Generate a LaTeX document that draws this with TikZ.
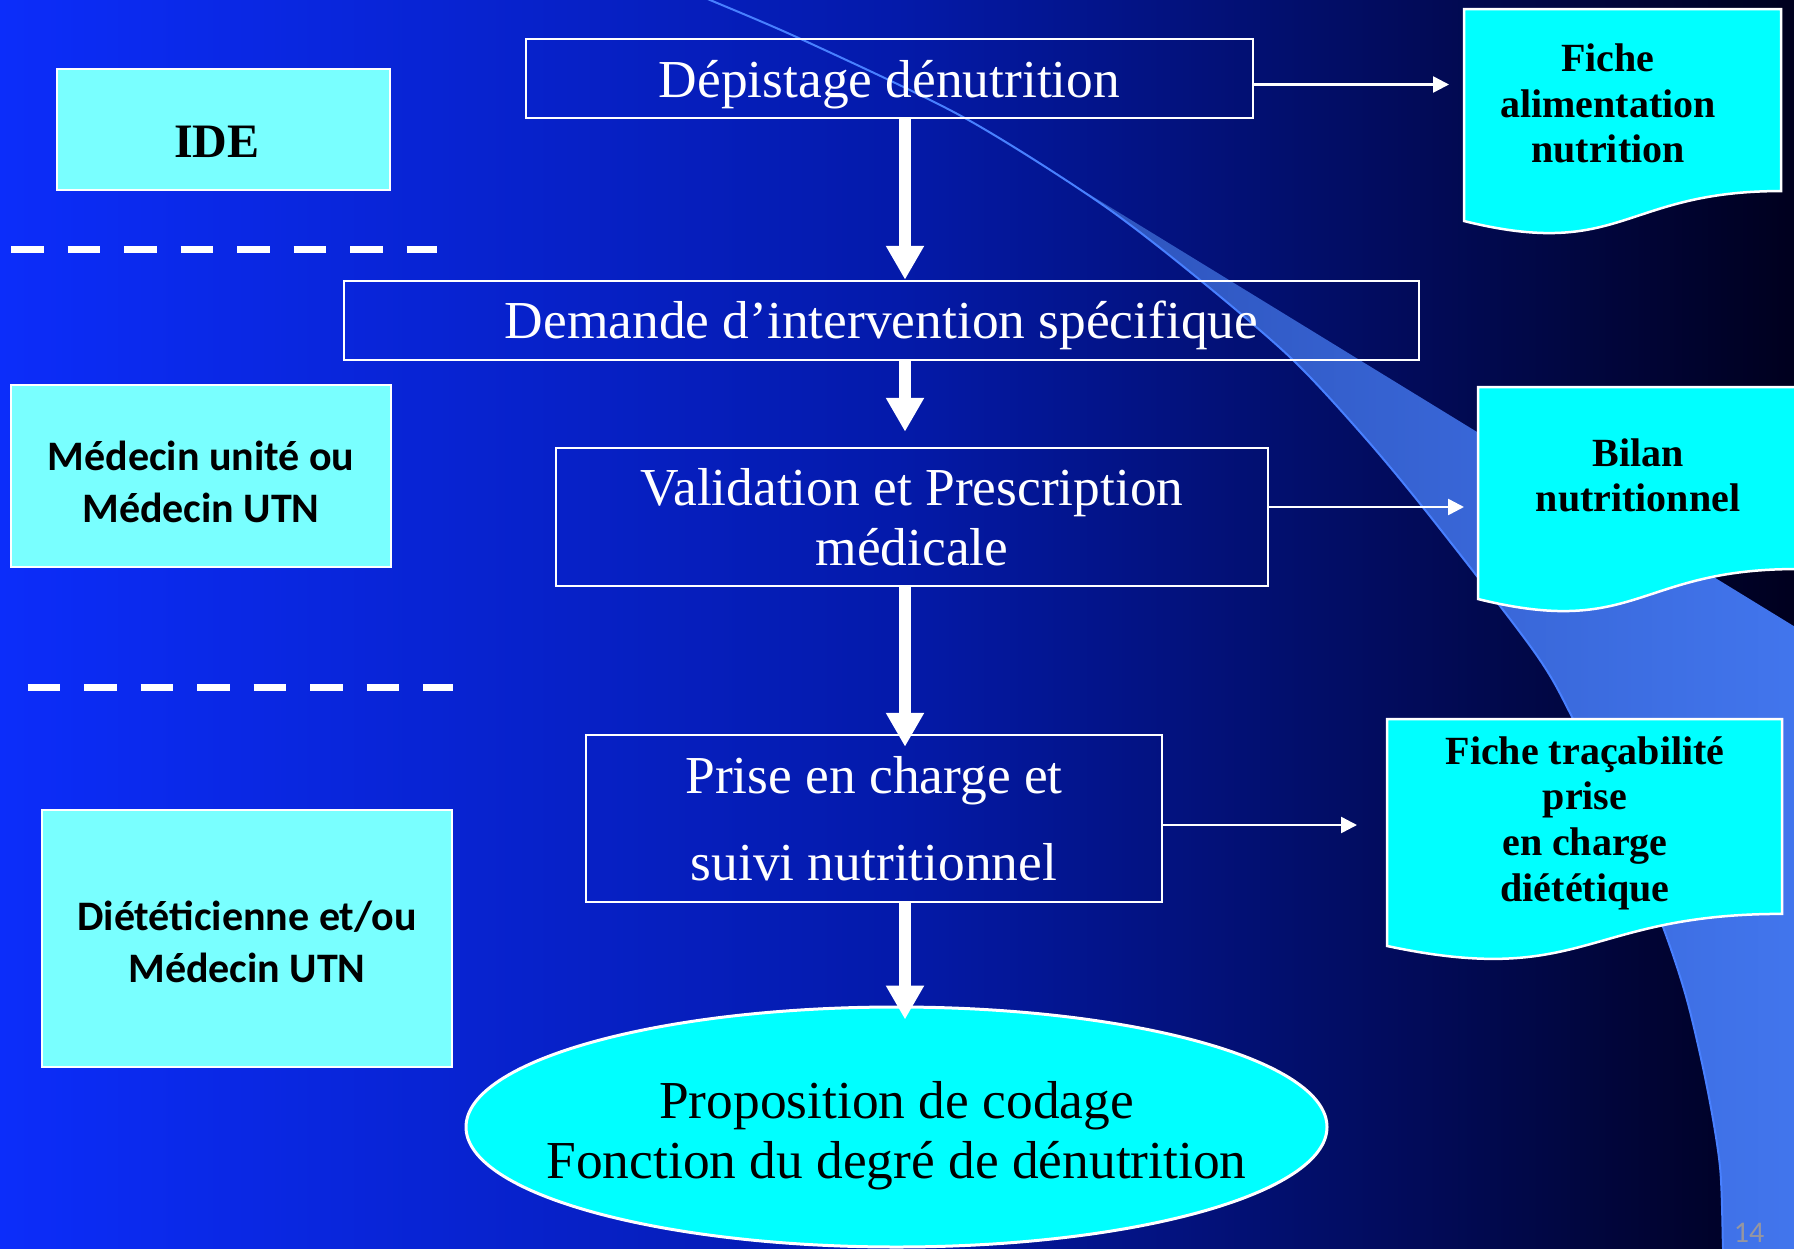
\documentclass[tikz,border=0pt]{standalone}
\usepackage{fontspec}
\usetikzlibrary{arrows.meta,shapes.geometric}
\newfontfamily\lsfont{Liberation Serif}
\newfontfamily\carlfont{Carlito}
\definecolor{bgL}{RGB}{12,45,250}
\definecolor{bgM}{RGB}{4,26,170}
\definecolor{bgR}{RGB}{0,0,30}
\definecolor{bandL}{RGB}{42,78,180}
\definecolor{bandR}{RGB}{66,118,238}
\definecolor{arcline}{RGB}{72,128,255}
\definecolor{rolefill}{RGB}{121,255,255}
\definecolor{docfill}{RGB}{0,255,255}
\definecolor{pagegray}{RGB}{150,150,160}
\tikzset{
  flowbox/.style={draw=white, line width=1.25pt, rectangle, inner sep=0pt, align=center, text=white,
    font={\lsfont\fontsize{26.7}{30}\selectfont}},
  rolebox/.style={draw=white, line width=1pt, fill=rolefill, inner sep=0pt},
  roletext/.style={inner sep=0pt, align=center, text=black,
    font={\carlfont\bfseries\fontsize{21}{26}\selectfont}},
  doctext/.style={inner sep=0pt, align=center, text=black,
    font={\lsfont\bfseries\fontsize{20}{22.8}\selectfont}},
  docshape/.style={fill=docfill, draw=white, line width=1.25pt},
  bigarrow/.style={draw=white, line width=6pt, -{Triangle[length=17pt,width=18pt]}},
  thinarrow/.style={draw=white, line width=1.25pt, -{Triangle[length=8pt,width=8pt]}},
  sepline/.style={draw=white, line width=3.5pt, dash pattern=on 16.25pt off 12pt},
}
\newcommand\mydocshape[4]{%
  \path[docshape] (#1,#2) -- ({#1+#3},#2) -- ({#1+#3},{#2+0.802*#4})
    .. controls ({#1+0.5*#3},{#2+0.802*#4}) and ({#1+0.5*#3},{#2+1.107*#4}) ..
    (#1,{#2+0.934*#4}) -- cycle;}
\begin{document}
\begin{tikzpicture}[x=0.5pt,y=-0.5pt]
\useasboundingbox (0,0) rectangle (1794,1248);
\clip (0,0) rectangle (1794,1248);
% background
\shade[left color=bgL, right color=bgR, middle color=bgM] (0,0) rectangle (1794,1248);
% light band
\shade[left color=bandL, right color=bandR]
  plot[smooth] coordinates {(963,117) (1100,203) (1200,280) (1293,360) (1367,440) (1433,520)
   (1533,650) (1570,713) (1620,820) (1663,927) (1687,1000) (1707,1087) (1720,1167) (1723,1248) (1724,1262)}
  -- (1810,1262) -- (1810,636) -- cycle;
% thin arc
\draw[arcline, line width=1pt]
  plot[smooth] coordinates {(700,-4) (710,0) (803,40) (963,117) (1100,203) (1200,280) (1293,360) (1367,440) (1433,520)
   (1533,650) (1570,713) (1620,820) (1663,927) (1687,1000) (1707,1087) (1720,1167) (1723,1248) (1724,1262)};
% separators
\draw[sepline] (11,249) -- (437,249);
\draw[sepline] (27.5,687) -- (453,687);
% role boxes
\node[rolebox, minimum width=166.5pt, minimum height=60.5pt] (ide) at (223.5,129.5) {};
\node[font={\lsfont\bfseries\fontsize{24}{28}\selectfont}, text=black, inner sep=0pt] (ideLabel) at (217,142) {IDE};
\node[rolebox, minimum width=190pt, minimum height=91pt] (med) at (201,476) {};
\node[roletext] (medLabel) at (201,481.5) {Médecin unité ou\\Médecin UTN};
\node[rolebox, minimum width=205pt, minimum height=128.5pt] (diet) at (247,938.5) {};
\node[roletext] (dietLabel) at (247,941.5) {Diététicienne et/ou\\Médecin UTN};
% flow
\coordinate (spine) at (905,0);
\node[flowbox, minimum width=363.5pt, minimum height=39.5pt, text height=23pt, text depth=4.5pt] (dep) at (889.5,78.5) {Dépistage dénutrition};
\node[flowbox, minimum width=537.5pt, minimum height=39.5pt, text height=22pt, text depth=4.5pt] (dem) at (881.5,320.5) {Demande d’intervention spécifique};
\node[flowbox, minimum width=356pt, minimum height=69pt] (val) at (912,517) {Validation et Prescription\\médicale};
\node[flowbox, minimum width=288pt, minimum height=83.5pt, font={\lsfont\fontsize{26.7}{43.5}\selectfont}] (prise) at (874,818.5) {Prise en charge et\\suivi nutritionnel};
\node[ellipse, draw=white, line width=1.5pt, fill=docfill, inner sep=0pt, minimum width=430.5pt, minimum height=120pt] (code) at (896.5,1127) {};
\node[inner sep=0pt, align=center, text=black, font={\lsfont\fontsize{26.7}{30}\selectfont}] (codeLabel) at (896.5,1136)
  {Proposition de codage\\Fonction du degré de dénutrition};
% documents
\mydocshape{1464}{9}{317}{227}
\node[doctext] (d1) at (1608,103.5) {Fiche\\alimentation\\nutrition};
\mydocshape{1478}{387}{318}{227}
\node[doctext] (d2) at (1638,475.5) {Bilan\\nutritionnel};
\mydocshape{1387}{719}{395}{243}
\node[doctext] (d3) at (1585,823) {Fiche traçabilité\\prise\\en charge\\diététique};
% arrows
\draw[bigarrow] (dep.south -| spine) -- (dem.north -| spine);
\draw[bigarrow, shorten >=7.5pt] (dem.south -| spine) -- (val.north -| spine);
\draw[bigarrow, shorten >=-6.5pt] (val.south -| spine) -- (prise.north -| spine);
\draw[bigarrow, shorten >=-7pt] (prise.south -| spine) -- (code.north -| spine);
\coordinate (d1in) at (1464,84.5);
\coordinate (d2in) at (1478,507);
\coordinate (d3in) at (1387,825);
\draw[thinarrow, shorten >=7.5pt] (dep.east |- d1in) -- (d1in);
\draw[thinarrow, shorten >=7pt] (val.east |- d2in) -- (d2in);
\draw[thinarrow, shorten >=15pt] (prise.east |- d3in) -- (d3in);
% page number
\node[font={\carlfont\fontsize{15}{18}\selectfont}, text=pagegray, anchor=base, inner sep=0pt] (pnum) at (1749,1242) {14};
\end{tikzpicture}
\end{document}
